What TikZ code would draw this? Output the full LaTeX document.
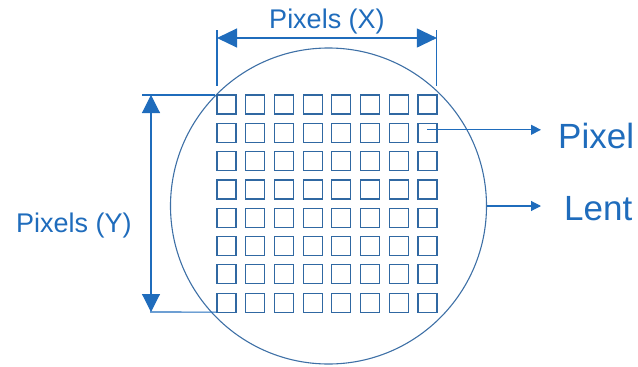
\documentclass[tikz,border=0pt]{standalone}
\usepackage{fontspec}
\setmainfont{Liberation Sans}
\usetikzlibrary{arrows.meta}
\definecolor{dimblue}{RGB}{31,108,188}
\definecolor{gridblue}{RGB}{48,104,162}
\definecolor{lensblue}{RGB}{62,112,166}
\tikzset{
  pix/.style={draw=gridblue, line width=1.2pt, minimum width=19pt, minimum height=19pt, inner sep=0pt, outer sep=0pt},
  lens/.style={circle, draw=lensblue, line width=1.1pt, minimum size=316pt, inner sep=0pt, outer sep=0pt},
  dimline/.style={draw=dimblue, line width=1.1pt},
  bigtip/.style={dimline, {Triangle[length=20pt,width=19pt]}-{Triangle[length=20pt,width=19pt]}},
  vtip/.style={dimline, {Triangle[length=18pt,width=18pt]}-{Triangle[length=18pt,width=18pt]}},
  smalltip/.style={dimline, -{Triangle[length=10pt,width=10pt]}},
  lbl/.style={text=dimblue, inner sep=0pt, font=\fontsize{27}{30}\selectfont},
  biglbl/.style={text=dimblue, inner sep=0pt, font=\fontsize{35}{40}\selectfont},
}
\begin{document}
\begin{tikzpicture}[x=1pt, y=-1pt]
\useasboundingbox (0,0) rectangle (638,367);

% lens outline
\node[lens] (lens) at (328.5,206) {};

% 8 x 8 pixel array
\foreach \i in {0,...,7}{
  \foreach \j in {0,...,7}{
    \node[pix] (p-\i-\j) at ({226.5+\i*28.7},{104.5+\j*28.3}) {};
  }
}

% horizontal dimension: Pixels (X)
\coordinate (xl) at (p-0-0.north west |- 0,30);
\coordinate (xr) at (p-7-0.north east |- 0,30);
\coordinate (xlb) at (p-0-0.north west |- 0,86);
\coordinate (xrb) at (p-7-0.north east |- 0,86);
\draw[dimline] (xl) -- (xlb);
\draw[dimline] (xr) -- (xrb);
\coordinate (xal) at (p-0-0.north west |- 0,38);
\coordinate (xar) at (p-7-0.north east |- 0,38);
\draw[bigtip] (xal) -- (xar);
\node[lbl, anchor=base] (xlabel) at (327,28) {Pixels (X)};

% vertical dimension: Pixels (Y)
\coordinate (yt) at (142,95);
\coordinate (ytb) at (215,95);
\coordinate (yb) at (150,312);
\coordinate (ybb) at (p-0-7.south west);
\draw[dimline] (yt) -- (ytb);
\draw[dimline] (yb) -- (ybb);
\coordinate (yat) at (151,95);
\coordinate (yab) at (151,312);
\draw[vtip] (yat) -- (yab);
\node[lbl, anchor=base west] (ylabel) at (16,232) {Pixels (Y)};

% callouts
\coordinate (lensend) at (541,206);
\coordinate (pixsrc) at ([yshift=3pt]p-7-1.center);
\coordinate (pixend) at (pixsrc -| lensend);
\draw[smalltip] (pixsrc) -- (pixend);
\node[biglbl, anchor=base west] (pixlabel) at (558,148) {Pixel};

\draw[smalltip] (lens.east) -- (lensend);
\node[biglbl, anchor=base west] (lenslabel) at (564,220) {Lent};
\end{tikzpicture}
\end{document}
